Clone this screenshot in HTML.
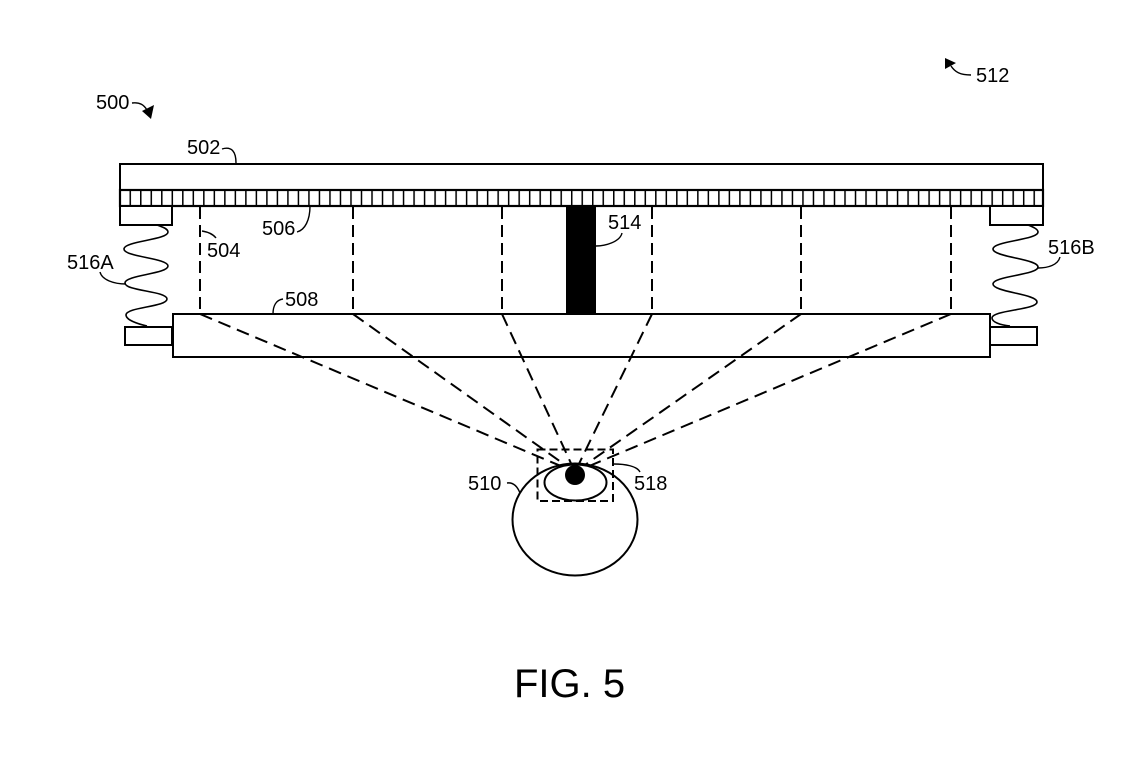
<!DOCTYPE html>
<html>
<head>
<meta charset="utf-8">
<style>
html,body{margin:0;padding:0;background:#fff;}
svg{display:block;}
text{font-family:"Liberation Sans",Arial,sans-serif;fill:#000;}
</style>
</head>
<body>
<svg width="1140" height="769" viewBox="0 0 1140 769" xmlns="http://www.w3.org/2000/svg">
<defs>
<pattern id="grid" patternUnits="userSpaceOnUse" x="119" y="190" width="10.511" height="16">
<rect x="0" y="0" width="1.5" height="16" fill="#000"/>
</pattern>
</defs>
<rect width="1140" height="769" fill="#fff"/>

<!-- top plate 502 -->
<rect x="120" y="164" width="923" height="26" fill="#fff" stroke="#000" stroke-width="2"/>
<!-- grid 506 -->
<rect x="120" y="190" width="923" height="16" fill="url(#grid)"/>
<rect x="120" y="190" width="923" height="16" fill="none" stroke="#000" stroke-width="2.2"/>

<!-- pads -->
<rect x="120" y="206" width="52" height="19" fill="#fff" stroke="#000" stroke-width="2"/>
<rect x="990" y="206" width="53" height="19" fill="#fff" stroke="#000" stroke-width="2"/>

<!-- springs -->
<path d="M157,225 C163,227 168,229 168,232 C168,240 124,241 124,249 C124,257 168,258 168,266 C168,274 125,275 125,283 C125,291 167,291 167,299 C167,307 126,307 126,315 C126,320 138,324 147,326" fill="none" stroke="#000" stroke-width="1.6"/>
<path d="M1028,225 C1033,227 1038,229 1038,232 C1038,240 993,241 993,249 C993,257 1038,259 1038,267 C1038,275 993,276 993,284 C993,292 1037,294 1037,302 C1037,310 992,310 992,318 C992,322 1000,325 1010,326" fill="none" stroke="#000" stroke-width="1.6"/>

<!-- tabs -->
<rect x="125" y="327" width="47" height="18" fill="#fff" stroke="#000" stroke-width="2"/>
<rect x="990" y="327" width="47" height="18" fill="#fff" stroke="#000" stroke-width="2"/>

<!-- lower plate 508 -->
<rect x="173" y="314" width="817" height="43" fill="#fff" stroke="#000" stroke-width="2"/>

<!-- black bar 514 -->
<rect x="566" y="206" width="30" height="108" fill="#000"/>

<!-- vertical dashed lines -->
<g stroke="#000" stroke-width="2" stroke-dasharray="12 6" fill="none">
<line x1="200" y1="207" x2="200" y2="314"/>
<line x1="353" y1="207" x2="353" y2="314"/>
<line x1="502" y1="207" x2="502" y2="314"/>
<line x1="652" y1="207" x2="652" y2="314"/>
<line x1="801" y1="207" x2="801" y2="314"/>
<line x1="951" y1="207" x2="951" y2="314"/>
</g>

<!-- converging dashed lines -->
<g stroke="#000" stroke-width="2" stroke-dasharray="13 7" fill="none">
<line x1="200" y1="314" x2="575" y2="472"/>
<line x1="353" y1="314" x2="575" y2="472"/>
<line x1="502" y1="314" x2="575" y2="472"/>
<line x1="652" y1="314" x2="575" y2="472"/>
<line x1="801" y1="314" x2="575" y2="472"/>
<line x1="951" y1="314" x2="575" y2="472"/>
</g>

<!-- eye 510 -->
<ellipse cx="575" cy="519.5" rx="62.5" ry="56" fill="#fff" stroke="#000" stroke-width="2"/>
<ellipse cx="575.5" cy="482.5" rx="31" ry="18" fill="#fff" stroke="#000" stroke-width="2"/>
<circle cx="575" cy="475" r="10" fill="#000"/>

<!-- dashed rect 518 -->
<rect x="537.5" y="449.5" width="75.5" height="51.5" fill="none" stroke="#000" stroke-width="2" stroke-dasharray="8 4"/>

<!-- leaders -->
<g fill="none" stroke="#000" stroke-width="1.4">
<path d="M222,149 C232,146 236,152 236,163"/>
<path d="M297,232 C305,230 310,220 310,206"/>
<path d="M202,231 C208,232 213,234 216,238"/>
<path d="M283,299 C276,300 273,306 273,314"/>
<path d="M622,233 C620,242 605,246 596,246"/>
<path d="M100,272 C102,280 114,284 126,284"/>
<path d="M1060,257 C1058,265 1048,268 1038,268"/>
<path d="M507,483 C514,482 518,488 520,493"/>
<path d="M640,472 C637,466 625,464 614,464"/>
<path d="M132,103 C140,102 144,105 147,110"/>
<path d="M971,75 C960,75 955,72 951,66"/>
</g>
<!-- arrowheads -->
<polygon points="151,119 142,111 154,105" fill="#000"/>
<polygon points="945,58 945,69 956,63" fill="#000"/>

<!-- labels -->
<g font-size="20">
<text x="96" y="109">500</text>
<text x="187" y="154">502</text>
<text x="976" y="82">512</text>
<text x="262" y="235">506</text>
<text x="207" y="257">504</text>
<text x="285" y="306">508</text>
<text x="608" y="229">514</text>
<text x="67" y="269">516A</text>
<text x="1048" y="254">516B</text>
<text x="468" y="490">510</text>
<text x="634" y="490">518</text>
</g>
<text x="514" y="697" font-size="40">FIG. 5</text>
</svg>
</body>
</html>
